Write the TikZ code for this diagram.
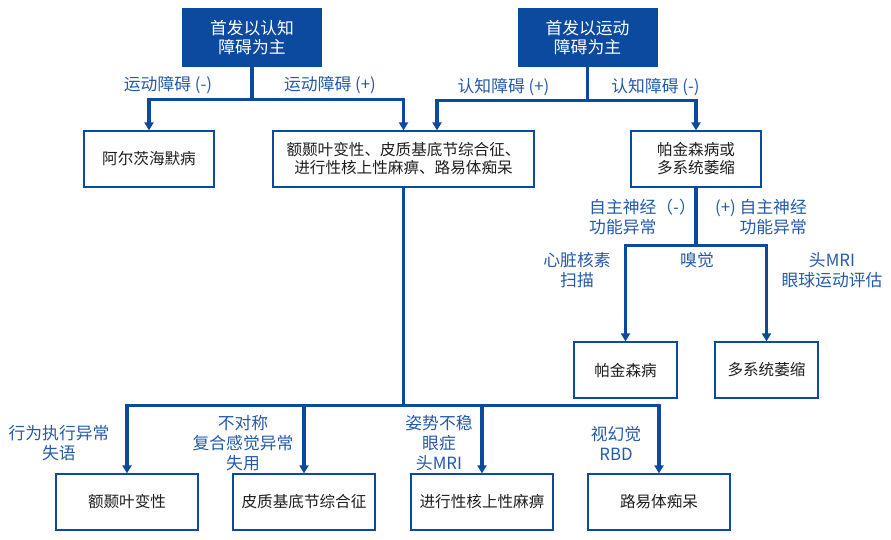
\documentclass[tikz,border=0pt]{standalone}
\usepackage{fontspec}
\setmainfont{Noto Sans CJK SC}
\usetikzlibrary{arrows.meta}
\definecolor{navy}{RGB}{11,74,158}
\definecolor{hintblue}{RGB}{36,90,168}
\definecolor{boxtext}{RGB}{30,30,30}
\newcommand{\onset}[3]{%
 \node[onset] ({#1}) at ({#2}) {#3};%
}
\newcommand{\diag}[4]{%
 \node[diag, minimum width={#3}] ({#1}) at ({#2}) {#4};%
}
\newcommand{\hint}[4][]{%
 \node[hint, #1] ({#2}) at ({#3}) {#4};%
}

\begin{document}
\begin{tikzpicture}[x=1pt, y=-1pt,
  onset/.style={fill=navy, text=white, minimum width=140, minimum height=59, inner sep=0,
    align=center, font=\fontsize{16.8}{19.5}\selectfont},
  diag/.style={draw=navy, line width=1.2pt, minimum height=56, inner sep=0, text=boxtext,
    align=center, font=\fontsize{15.6}{18}\selectfont},
  hint/.style={text=hintblue, inner sep=0, align=center, font=\fontsize{16.8}{20}\selectfont},
  link/.style={draw=navy, line width=3.3pt, -{Triangle[width=9pt,length=8pt]}}]
  \useasboundingbox (0,0) rectangle (891,539);
  \onset{t1}{252,37.5}{首发以认知\\障碍为主};
  \onset{t2}{587.5,37.5}{首发以运动\\障碍为主};
  \diag{ad}{149,159}{130}{阿尔茨海默病};
  \diag{mid}{403.5,159}{261}{额颞叶变性、皮质基底节综合征、\\进行性核上性麻痹、路易体痴呆};
  \diag{pdmsa}{696,159}{130}{帕金森病或\\多系统萎缩};
  \diag{pd}{625.5,370}{103}{帕金森病};
  \diag{msa}{766.5,370}{103}{多系统萎缩};
  \diag{ftd}{127,502}{142}{额颞叶变性};
  \diag{cbs}{304,502}{142}{皮质基底节综合征};
  \diag{psp}{482,502}{142}{进行性核上性麻痹};
  \diag{dlb}{659,502}{142}{路易体痴呆};
  % first split
  \draw[link] (t1.south) -- ++(0,32) -| (ad.north);
  \draw[link] (t1.south) -- ++(0,32) -| (mid.north);
  \draw[link] (t2.south) -- ++(0,33) -| ([xshift=33.5pt]mid.north);
  \draw[link] (t2.south) -- ++(0,33) -| (pdmsa.north);
  \draw[link] (pdmsa.south) -- ++(0,58) -| (pd.north);
  \draw[link] (pdmsa.south) -- ++(0,58) -| (msa.north);
  \draw[link] (mid.south) -- ++(0,218) -| (ftd.north);
  \draw[link] (mid.south) -- ++(0,218) -| (cbs.north);
  \draw[link] (mid.south) -- ++(0,218) -| (psp.north);
  \draw[link] (mid.south) -- ++(0,218) -| (dlb.north);
  % labels
  \hint{mneg}{168,85}{运动障碍 (-)};
  \hint{mpos}{330,85}{运动障碍 (+)};
  \hint{cpos}{503.5,87}{认知障碍 (+)};
  \hint{cneg}{655.5,87}{认知障碍 (-)};
  \hint[align=left, anchor=west]{aneg}{589,217}{自主神经（-）\\功能异常};
  \hint[align=right, anchor=east]{apos}{807,217}{(+) 自主神经\\功能异常};
  \hint{heart}{577,270}{心脏核素\\扫描};
  \hint{smell}{697,260}{嗅觉};
  \hint{mri}{832,270}{头MRI\\眼球运动评估};
  \hint{bvf}{59,443}{行为执行异常\\失语};
  \hint{asym}{243,443}{不对称\\复合感觉异常\\失用};
  \hint{gait}{439,443}{姿势不稳\\眼症\\头MRI};
  \hint{vh}{616,443}{视幻觉\\RBD};
\end{tikzpicture}
\end{document}
